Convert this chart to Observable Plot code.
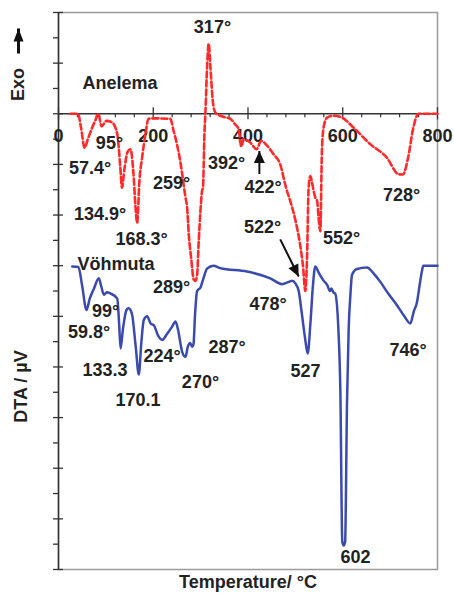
<!DOCTYPE html>
<html><head><meta charset="utf-8">
<script src="https://cdn.jsdelivr.net/npm/d3@7"></script>
<script src="https://cdn.jsdelivr.net/npm/@observablehq/plot@0.6"></script>
<style>body{margin:0;background:#fff} svg{display:block}</style>
</head><body><div id="chart"></div>
<script>
// Anelema (red dashed) DTA curve: temperature (°C) and signal (arbitrary units)
const anelemaT = [25,41,48,55,62,70,78,84,91,101,113,124,130,134,139,146,152,158,163,166,171,176.5,183.5,190,198,236,243,250,257,262,268,271.5,275,280,285.5,289,292.6,296,299.6,303,305,308,310,313.6,317,320.7,325.6,331,345,363,372,380,386,391,398,405,412,418,428,440,454,468,480,490,500,510,516,521,524.6,528,531.6,535,538.6,542,546,549,552.7,556,559.5,567,581,598,623,658,693,718,727,738,749,760,800];
const anelemaV = [0,0,-0.6,-1.34,-1.0,-0.6,-0.25,0,-0.5,-0.28,-0.34,-0.8,-2.0,-2.92,-2.2,-1.5,-1.4,-2.3,-3.8,-4.31,-2.6,-1.73,-0.8,-0.2,-0.18,-0.2,-0.68,-1.2,-1.87,-2.5,-3.3,-3.7,-4.77,-5.7,-6.55,-6.6,-6.36,-5.04,-3.85,-3.05,-2.92,-0.8,0,1.84,2.77,1.84,0.52,0.05,-0.1,-0.2,-0.4,-0.6,-1.3,-1.0,-1.05,-1.14,-1.3,-1.4,-1.07,-1.25,-1.6,-2.0,-2.9,-3.5,-4.2,-5.17,-6.0,-7.0,-5.7,-2.9,-2.46,-2.7,-3.05,-3.3,-3.45,-4.1,-4.64,-1.47,-0.55,-0.15,-0.08,-0.15,-0.55,-1.2,-1.73,-2.39,-2.4,-1.73,-0.55,0,0];

// Vöhmuta (blue solid) DTA curve
const vohmutaT = [29,42,50,59,66,75,85,90,96,102,110,124,128,131,136,143.5,148,155,163,169.5,175,180,187,195,201,210,219,229,240,247,252,261,268,273,278,282,285,288,292.6,300,306,313.6,327,342,398,447,472,485,493,500,507,513,520,526,532,537,542,550,560,567,573,576,580,584,591,595,599,602,605,609,612.5,616,619.6,630,651,665,679,696,714,730,742.6,750,756.8,762,767,770,800];
const vohmutaV = [-6.03,-6.05,-6.8,-7.75,-7.3,-6.9,-6.5,-6.8,-7.15,-7.05,-7.1,-7.3,-8.3,-9.27,-8.5,-7.75,-7.68,-7.9,-9.2,-10.3,-9.0,-8.15,-8.0,-8.3,-8.35,-8.75,-8.93,-8.7,-8.4,-8.2,-8.5,-9.4,-9.6,-9.2,-9.05,-9.2,-9.1,-8.0,-7.0,-6.85,-6.5,-6.12,-6.0,-6.1,-6.23,-6.5,-6.73,-6.65,-6.6,-6.7,-7.0,-7.8,-8.8,-9.47,-8.2,-6.8,-6.03,-6.3,-6.6,-6.76,-7.0,-6.9,-7.05,-7.1,-8.6,-11.0,-16.9,-17.05,-16.9,-11.4,-8.5,-7.2,-6.36,-6.13,-6.07,-6.3,-6.63,-7.1,-7.55,-8.0,-8.28,-7.8,-7.43,-6.8,-6.23,-6.0,-6.0];

// Axis ticks and labels
const xTickLabels = [0, 200, 400, 600, 800];
const xMinorTicks = [40,80,120,160,240,280,320,360,440,480,520,560,640,680,720,760];
const yTicks = d3.range(-18, 5);

// Peak annotations (label, temperature, signal position)
const peakText = ["317°","95°","57.4°","259°","392°","422°","728°","134.9°","168.3°","522°","552°","289°","99°","59.8°","224°","287°","133.3","270°","170.1","478°","527","746°","602"];
const peakT    = [325,107.6,66.5,238.5,354.6,431.7,724,87.6,175.2,430.6,597.4,238.5,99.2,64.4,218.5,355.7,98.2,299.7,167.8,442.2,521.4,737.7,626.9];
const peakV    = [3.40,-1.17,-2.16,-2.75,-1.96,-2.91,-3.21,-3.98,-4.97,-4.5,-4.9,-6.86,-7.8,-8.63,-9.58,-9.23,-10.14,-10.6,-11.32,-7.53,-10.18,-9.35,-17.52];

const seriesText = ["Anelema", "Vöhmuta"];
const seriesT = [50.7, 40.1];
const seriesV = [1.20, -5.95];

// Annotation arrows: tail -> tip (temperature, signal)
const arrowT1 = [424, 468, -84.4];
const arrowV1 = [-2.38, -4.96, 2.38];
const arrowT2 = [424, 507, -84.4];
const arrowV2 = [-1.47, -6.43, 3.37];

const anelema = anelemaT.map((t, i) => ({T: t, v: anelemaV[i]}));
const vohmuta = vohmutaT.map((t, i) => ({T: t, v: vohmutaV[i]}));
const peaks = peakText.map((s, i) => ({s, T: peakT[i], v: peakV[i]}));
const series = seriesText.map((s, i) => ({s, T: seriesT[i], v: seriesV[i]}));
const arrows = arrowT1.map((t, i) => ({x1: t, y1: arrowV1[i], x2: arrowT2[i], y2: arrowV2[i], dir: i === 1 ? [0.443, 0.896] : [0, -1]}));

function head(dir, len, half) {
  return {
    draw(ctx) {
      const [dx, dy] = dir;
      const bx = -len * dx, by = -len * dy;
      const px = -dy, py = dx;
      ctx.moveTo(0, 0);
      ctx.lineTo(bx + half * px, by + half * py);
      ctx.lineTo(bx - half * px, by - half * py);
      ctx.closePath();
    }
  };
}

const font = "'Liberation Sans', Arial, Helvetica, sans-serif";
const txt = {fontSize: 18, fontWeight: "bold", fill: "#222"};
const centered = {textAnchor: "middle", lineAnchor: "middle"};

const chart = Plot.plot({
  width: 454,
  height: 593,
  marginLeft: 58,
  marginRight: 17,
  marginTop: 12,
  marginBottom: 24,
  x: {domain: [0, 800], axis: null},
  y: {domain: [-18, 4], axis: null},
  style: {fontFamily: font, background: "white", overflow: "visible"},
  marks: [
    Plot.frame({stroke: "#9a9a9a", strokeWidth: 1.5}),
    Plot.ruleX([0], {stroke: "#333", strokeWidth: 1.5}),
    Plot.ruleY(yTicks, {y: d => d, x1: -10.5, x2: d => (d % 2 === 0 ? 10.5 : 0), stroke: "#333", strokeWidth: 1.3}),
    Plot.ruleY([0], {stroke: "#333", strokeWidth: 1.5}),
    Plot.ruleX(xTickLabels, {x: d => d, y1: -0.24, y2: 0.24, stroke: "#333", strokeWidth: 1.3}),
    Plot.ruleX(xMinorTicks, {x: d => d, y1: -0.16, y2: 0, stroke: "#333", strokeWidth: 1.2}),
    Plot.text(xTickLabels, {x: d => d, y: 0, dy: 22, text: d => String(d), ...txt}),
    Plot.line(anelema, {x: "T", y: "v", stroke: "#ff2a2a", strokeWidth: 2.6, strokeDasharray: "6,3", curve: "monotone-x"}),
    Plot.line(vohmuta, {x: "T", y: "v", stroke: "#3a4aad", strokeWidth: 2.5, curve: "monotone-x"}),
    Plot.text(peaks, {x: "T", y: "v", text: "s", ...txt}),
    Plot.text(series, {x: "T", y: "v", text: "s", textAnchor: "start", ...txt}),
    Plot.link(arrows, {x1: "x1", y1: "y1", x2: "x2", y2: "y2", stroke: "#111", strokeWidth: (d, i) => (i === 2 ? 3 : 2)}),
    ...arrows.map((a, i) => Plot.dot([a], {x: "x2", y: "y2", r: 1, fill: "#111", stroke: "none", symbol: head(a.dir, i === 2 ? 13 : 12, i === 2 ? 5 : 5.5)})),
    Plot.text(["Exo"], {frameAnchor: "top-left", dx: -40, dy: 72, rotate: -90, text: d => d, ...centered, ...txt}),
    Plot.text(["DTA / µV"], {frameAnchor: "left", dx: -37, dy: 95.5, rotate: -90, text: d => d, ...centered, ...txt}),
    Plot.text(["Temperature/ °C"], {frameAnchor: "bottom", dy: 13, text: d => d, ...centered, ...txt})
  ]
});
document.getElementById("chart").appendChild(chart);
</script>
</body></html>
